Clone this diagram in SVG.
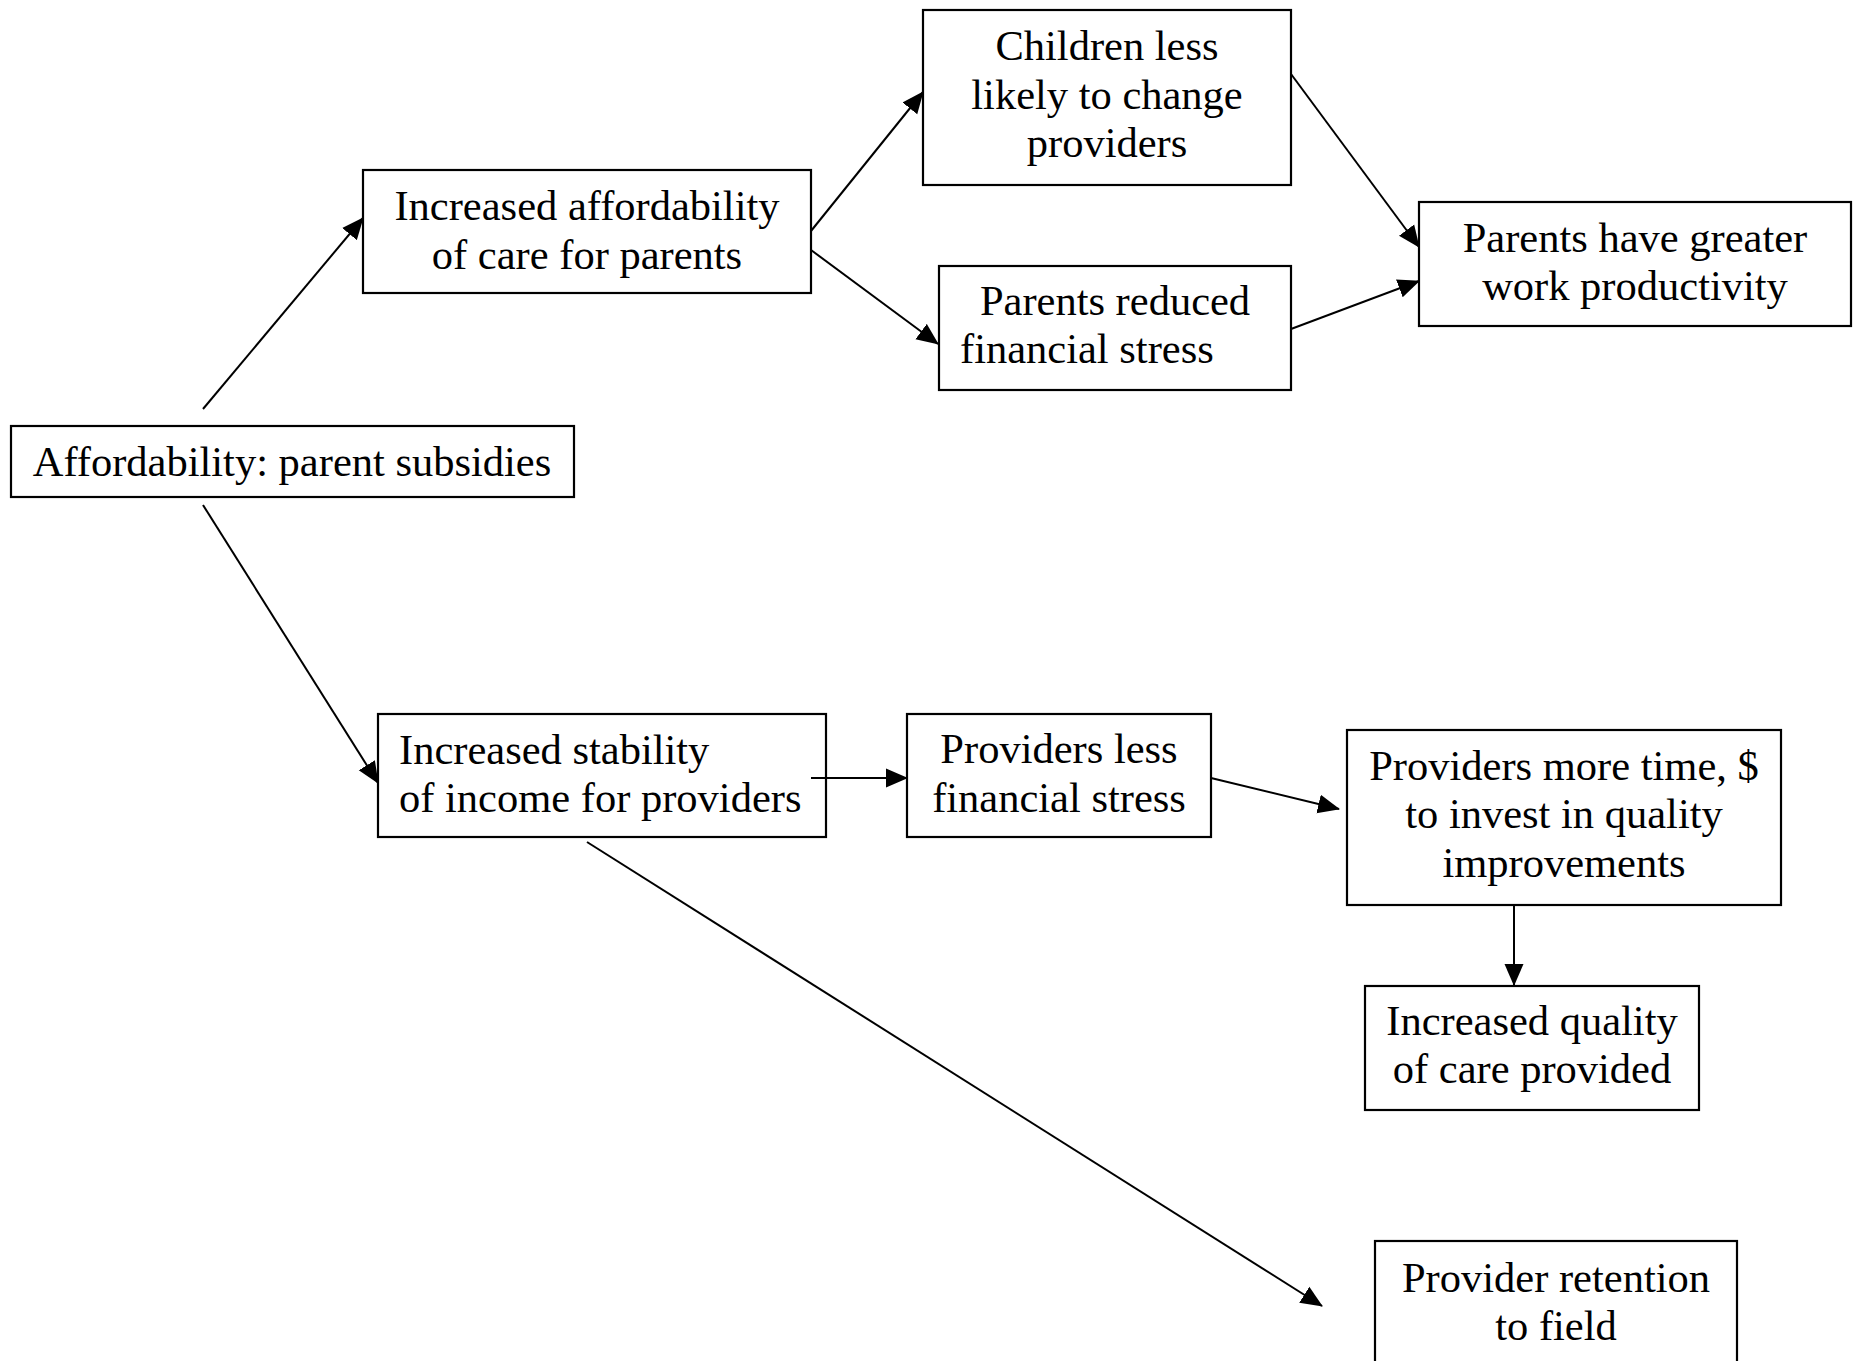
<svg xmlns="http://www.w3.org/2000/svg" width="1860" height="1361" viewBox="0 0 1860 1361">
<style>
.box{fill:#fff;stroke:#000;stroke-width:2.2}
.t{font-family:"Liberation Serif","Times New Roman",serif;font-size:42.5px;fill:#000}
.c{text-anchor:middle}
.edge{stroke:#000;stroke-width:2;fill:none;marker-end:url(#ah)}
</style>
<defs>
<marker id="ah" viewBox="0 0 22 20" refX="21" refY="10" markerWidth="22" markerHeight="20" markerUnits="userSpaceOnUse" orient="auto">
<path d="M0,0.5 L22,10 L0,19.5 z" fill="#000"/>
</marker>
</defs>
<rect width="1860" height="1361" fill="#fff"/>
<g id="n1">
<rect class="box" x="11" y="426" width="563" height="71"/>
<text class="t c" x="292" y="476">Affordability: parent subsidies</text>
</g>
<g id="n2">
<rect class="box" x="363" y="170" width="448" height="123"/>
<text class="t c" x="587" y="220">Increased affordability</text>
<text class="t c" x="587" y="269">of care for parents</text>
</g>
<g id="n3">
<rect class="box" x="923" y="10" width="368" height="175"/>
<text class="t c" x="1107" y="60">Children less</text>
<text class="t c" x="1107" y="108.5">likely to change</text>
<text class="t c" x="1107" y="157">providers</text>
</g>
<g id="n4">
<rect class="box" x="939" y="266" width="352" height="124"/>
<text class="t c" x="1115" y="315">Parents reduced</text>
<text class="t" x="960" y="363">financial stress</text>
</g>
<g id="n5">
<rect class="box" x="1419" y="202" width="432" height="124"/>
<text class="t c" x="1635" y="252">Parents have greater</text>
<text class="t c" x="1635" y="300">work productivity</text>
</g>
<g id="n6">
<rect class="box" x="378" y="714" width="448" height="123"/>
<text class="t" x="399" y="764">Increased stability</text>
<text class="t" x="399" y="812">of income for providers</text>
</g>
<g id="n7">
<rect class="box" x="907" y="714" width="304" height="123"/>
<text class="t c" x="1059" y="763">Providers less</text>
<text class="t c" x="1059" y="812">financial stress</text>
</g>
<g id="n8">
<rect class="box" x="1347" y="730" width="434" height="175"/>
<text class="t c" x="1564" y="780">Providers more time, $</text>
<text class="t c" x="1564" y="828">to invest in quality</text>
<text class="t c" x="1564" y="877">improvements</text>
</g>
<g id="n9">
<rect class="box" x="1365" y="986" width="334" height="124"/>
<text class="t c" x="1532" y="1035">Increased quality</text>
<text class="t c" x="1532" y="1083">of care provided</text>
</g>
<g id="n10">
<rect class="box" x="1375" y="1241" width="362" height="150"/>
<text class="t c" x="1556" y="1292">Provider retention</text>
<text class="t c" x="1556" y="1340">to field</text>
</g>
<g id="connectors">
<line class="edge" x1="203" y1="409" x2="363" y2="218"/>
<line class="edge" x1="203" y1="505" x2="378" y2="783"/>
<line class="edge" x1="811" y1="231" x2="923" y2="92"/>
<line class="edge" x1="811" y1="250" x2="938" y2="344"/>
<line class="edge" x1="1291" y1="74" x2="1419" y2="247"/>
<line class="edge" x1="1291" y1="329" x2="1419" y2="281"/>
<line class="edge" x1="811" y1="778" x2="907" y2="778"/>
<line class="edge" x1="1211" y1="778" x2="1339" y2="809"/>
<line class="edge" x1="1514" y1="905" x2="1514" y2="985"/>
<line class="edge" x1="587" y1="842" x2="1322" y2="1306"/>
</g>
</svg>
